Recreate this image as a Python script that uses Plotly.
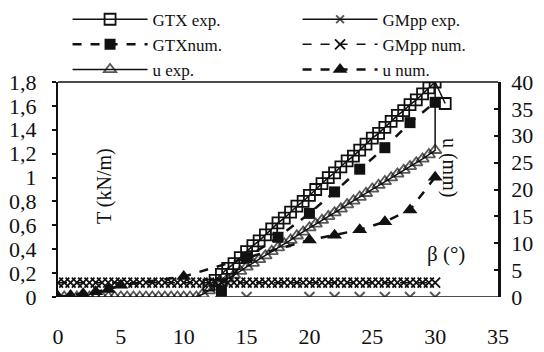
import plotly.graph_objects as go

# ---- data ----
gtx_exp_x = [12, 12.5, 13, 13.5, 14, 14.5, 15, 15.5, 16, 16.5, 17, 17.5, 18, 18.5, 19, 19.5,
             20, 20.5, 21, 21.5, 22, 22.5, 23, 23.5, 24, 24.5, 25, 25.5, 26, 26.5, 27, 27.5,
             28, 28.5, 29, 29.5, 30, 30.8]
gtx_exp_T = [0.10, 0.14, 0.19, 0.24, 0.28, 0.33, 0.38, 0.43, 0.47, 0.52, 0.57, 0.62, 0.66, 0.71,
             0.76, 0.80, 0.85, 0.90, 0.95, 1.00, 1.04, 1.09, 1.14, 1.18, 1.23, 1.28, 1.33, 1.37,
             1.42, 1.47, 1.52, 1.56, 1.61, 1.65, 1.70, 1.75, 1.80, 1.62]

gtx_num_x = [13, 15, 17.5, 20, 22, 24, 26, 28, 30]
gtx_num_T = [0.05, 0.33, 0.50, 0.70, 0.88, 1.07, 1.25, 1.46, 1.63]

gmpp_exp_x = [12.5, 15, 20, 22, 24, 26, 28, 30, 35]
gmpp_exp_T = [0, 0, 0, 0, 0, 0, 0, 0, 0]

gmpp_num_x = [0, 0.5, 1, 1.5, 2, 2.5, 3, 3.5, 4, 4.5, 5, 5.5, 6, 6.5, 7, 7.5, 8, 8.5, 9, 9.5,
              10, 10.5, 11, 11.5, 12, 12.5, 13, 13.5, 14, 14.5, 15, 15.5, 16, 16.5, 17, 17.5,
              18, 18.5, 19, 19.5, 20, 20.5, 21, 21.5, 22, 22.5, 23, 23.5, 24, 24.5, 25, 25.5,
              26, 26.5, 27, 27.5, 28, 28.5, 29, 29.5, 30]
gmpp_num_T = [0.12] * 61

u_exp_x = [0, 0.5, 1, 1.5, 2, 2.5, 3, 3.5, 4, 4.5, 5, 5.5, 6, 6.5, 7, 7.5, 8, 8.5, 9, 9.5,
           10, 10.5, 11, 11.5, 12, 12.5, 13, 13.5, 14, 14.5, 15, 15.5, 16, 16.5, 17, 17.5,
           18, 18.5, 19, 19.5, 20, 20.5, 21, 21.5, 22, 22.5, 23, 23.5, 24, 24.5, 25, 25.5,
           26, 26.5, 27, 27.5, 28, 28.5, 29, 29.5, 30, 30]
u_exp_mm = [0, 0, 0, 0, 0, 0, 0, 0, 0, 0, 0, 0, 0, 0, 0, 0, 0, 0, 0, 0,
            0, 0, 0, 0.5, 1.2, 1.9, 2.6, 3.4, 4.1, 4.8, 5.6, 6.3, 7.0, 7.7, 8.5, 9.2,
            9.9, 10.6, 11.4, 12.1, 12.9, 13.6, 14.3, 15.0, 15.7, 16.4, 17.2, 17.9, 18.6, 19.3, 20.1, 20.8,
            21.5, 22.2, 22.9, 23.6, 24.3, 25.0, 25.7, 26.5, 27.3, 40]

u_num_x = [0, 1, 2, 3, 4, 5, 10, 15, 20, 22, 24, 26, 28, 30]
u_num_mm = [0, 0.3, 0.6, 1.0, 1.4, 2.2, 3.8, 7.3, 10.6, 11.5, 12.5, 14.0, 16.2, 22.3]

x_ticks = [0, 5, 10, 15, 20, 25, 30, 35]

FONT = "Liberation Serif"
BLACK = "#111111"

fig = go.Figure()

# row 1
fig.add_trace(go.Scatter(x=gtx_exp_x, y=gtx_exp_T, name="GTX exp.", mode="lines+markers",
                         line=dict(color=BLACK, width=1.5),
                         marker=dict(symbol="square-open", size=11, color=BLACK, line=dict(width=1.8))))
fig.add_trace(go.Scatter(x=gmpp_exp_x, y=gmpp_exp_T, name="GMpp exp.", mode="lines+markers",
                         line=dict(color=BLACK, width=1.5),
                         marker=dict(symbol="x-thin-open", size=[0, 10, 10, 10, 10, 10, 10, 10, 0],
                                     color=BLACK, line=dict(width=2, color=BLACK))))
# row 2
fig.add_trace(go.Scatter(x=gtx_num_x, y=gtx_num_T, name="GTXnum.", mode="lines+markers",
                         line=dict(color=BLACK, width=2.5, dash="dash"),
                         marker=dict(symbol="square", size=11, color=BLACK)))
fig.add_trace(go.Scatter(x=gmpp_num_x, y=gmpp_num_T, name="GMpp num.", mode="lines+markers",
                         line=dict(color=BLACK, width=1.5, dash="dash"),
                         marker=dict(symbol="x-thin-open", size=10, color=BLACK,
                                     line=dict(width=1.8, color=BLACK))))
# row 3
fig.add_trace(go.Scatter(x=u_exp_x, y=u_exp_mm, name="u exp.", mode="lines+markers", yaxis="y2",
                         line=dict(color=BLACK, width=1.5),
                         marker=dict(symbol="triangle-up-open", size=[11] * 61 + [0], color=BLACK,
                                     line=dict(width=1.8))))
fig.add_trace(go.Scatter(x=u_num_x, y=u_num_mm, name="u num.", mode="lines+markers", yaxis="y2",
                         line=dict(color=BLACK, width=2.5, dash="dash"),
                         marker=dict(symbol="triangle-up", size=13, color=BLACK)))

fig.update_layout(
    width=544, height=352,
    margin=dict(l=58, r=46, t=82, b=55, autoexpand=False),
    paper_bgcolor="white", plot_bgcolor="white",
    separators=",.",
    font=dict(family=FONT, size=20, color=BLACK),
    showlegend=True,
    legend=dict(orientation="h", x=-0.001, xanchor="left", y=1.42, yanchor="top",
                entrywidth=140, entrywidthmode="pixels", tracegroupgap=0,
                borderwidth=10, bordercolor="rgba(0,0,0,0)",
                font=dict(family=FONT, size=17, color=BLACK),
                bgcolor="rgba(0,0,0,0)", itemwidth=75),
    xaxis=dict(range=[0, 35], tickvals=x_ticks, showgrid=False, zeroline=False,
               showline=False, ticks="", ticklabelstandoff=24,
               tickfont=dict(family=FONT, size=22, color=BLACK)),
    yaxis=dict(range=[0, 1.8], dtick=0.2, showgrid=False, zeroline=False,
               showline=True, linewidth=2, linecolor=BLACK,
               ticks="outside", ticklen=4, tickwidth=2, tickcolor=BLACK,
               ticklabelstandoff=11,
               tickfont=dict(family=FONT, size=22, color=BLACK)),
    yaxis2=dict(range=[0, 40], dtick=5, overlaying="y", side="right", showgrid=False,
                zeroline=False, showline=True, linewidth=2.5, linecolor=BLACK,
                ticks="inside", ticklen=4, tickwidth=2, tickcolor=BLACK,
                ticklabelstandoff=6,
                tickfont=dict(family=FONT, size=22, color=BLACK)),
    shapes=[dict(type="line", xref="paper", yref="paper", x0=0, x1=1, y0=1, y1=1,
                 line=dict(color=BLACK, width=1.5))],
    annotations=[
        dict(text="T (kN/m)", xref="paper", yref="paper", x=0.075, y=0.70, showarrow=False,
             textangle=-90, font=dict(family=FONT, size=20, color=BLACK)),
        dict(text="u (mm)", xref="paper", yref="paper", x=0.92, y=0.75, showarrow=False,
             textangle=90, font=dict(family=FONT, size=20, color=BLACK)),
        dict(text="β (°)", xref="paper", yref="paper", x=0.93, y=0.135, showarrow=False,
             font=dict(family=FONT, size=21, color=BLACK)),
    ],
)

fig.write_html("out.html", config={"displayModeBar": False},
               post_script="document.body.style.margin='0';")
